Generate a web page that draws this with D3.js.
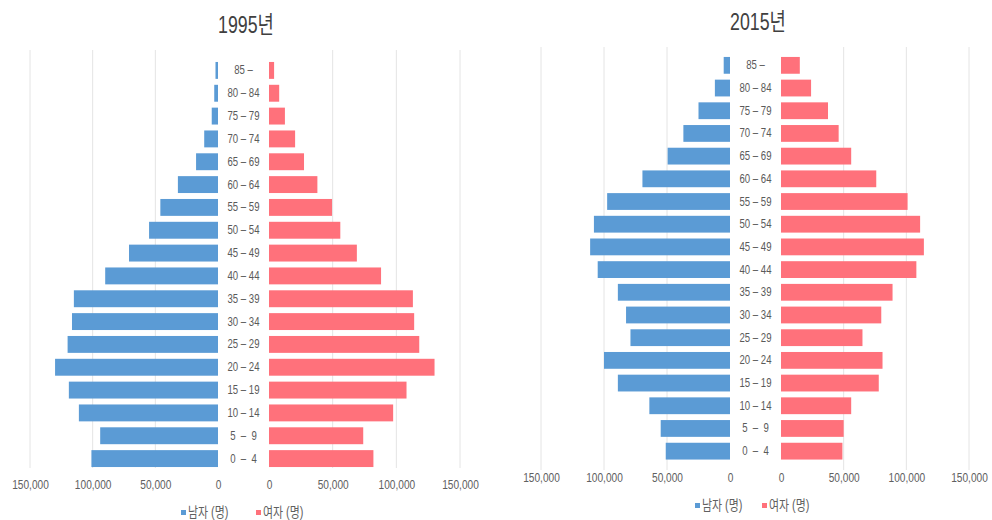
<!DOCTYPE html>
<html><head><meta charset="utf-8">
<script src="https://cdn.jsdelivr.net/npm/d3@7"></script>
<style>
html,body{margin:0;padding:0;background:#fff;}
svg{display:block;font-family:"Liberation Sans",Arial,"Noto Sans CJK KR",sans-serif;}
</style></head>
<body>
<svg id="chart" width="992" height="520"></svg>
<script>
const ageGroups = ["85 –","80 – 84","75 – 79","70 – 74","65 – 69","60 – 64","55 – 59","50 – 54","45 – 49","40 – 44","35 – 39","30 – 34","25 – 29","20 – 24","15 – 19","10 – 14","5\u00a0 –\u00a0 9","0\u00a0 –\u00a0 4"];
const male1995   = [2000,3000,5000,11000,17500,32000,46000,55000,71000,90000,115000,116500,120000,130000,119000,111000,94000,101000];
const female1995 = [4000,8000,12500,20500,27500,38000,49500,56000,69000,88000,113000,114000,118000,130000,108000,97500,74000,82000];
const male2015   = [5000,12000,25000,37000,49500,69500,97500,108000,111000,105000,89000,82500,79000,100000,89000,64000,55000,51000];
const female2015 = [15000,24000,37500,46000,56000,76000,101000,111000,114000,108000,89000,80000,65000,81000,78000,56000,50000,49000];
const tickValues = [0,50000,100000,150000];
const titles = ["1995년","2015년"];
const legendLabels = ["남자 (명)","여자 (명)"];
const colors = {male:"#5B9BD5", female:"#FF717B"};

const svg = d3.select("#chart");
const fmt = d3.format(",");

function squeezeText(sel, sx){
  sel.each(function(){
    const t = d3.select(this);
    const x = +t.attr("data-x"), y = +t.attr("data-y");
    t.attr("transform", `translate(${x},${y}) scale(${sx},1)`);
  });
}

function pyramid(cfg){
  const g = svg.append("g");
  const xm = d3.scaleLinear().domain([0,150000]).range([cfg.mZero, cfg.mMax]);
  const xf = d3.scaleLinear().domain([0,150000]).range([cfg.fZero, cfg.fMax]);
  const y = d3.scaleBand().domain(ageGroups).range([cfg.top, cfg.bottom]).paddingInner(0.26).paddingOuter(0.13);

  const gv = tickValues.filter(v=>v>0);
  g.selectAll(".gm").data(gv).join("line")
    .attr("x1",d=>xm(d)).attr("x2",d=>xm(d)).attr("y1",cfg.gTop).attr("y2",cfg.gBot)
    .attr("stroke","#e4e4e4").attr("stroke-width",1);
  g.selectAll(".gf").data(gv).join("line")
    .attr("x1",d=>xf(d)).attr("x2",d=>xf(d)).attr("y1",cfg.gTop).attr("y2",cfg.gBot)
    .attr("stroke","#e4e4e4").attr("stroke-width",1);

  g.selectAll(".bm").data(cfg.male).join("rect")
    .attr("x",(d)=>xm(d)).attr("width",d=>xm(0)-xm(d))
    .attr("y",(d,i)=>y(ageGroups[i])).attr("height",y.bandwidth())
    .attr("fill",colors.male);
  g.selectAll(".bf").data(cfg.female).join("rect")
    .attr("x",xf(0)).attr("width",d=>xf(d)-xf(0))
    .attr("y",(d,i)=>y(ageGroups[i])).attr("height",y.bandwidth())
    .attr("fill",colors.female);

  const cx = (cfg.mZero+cfg.fZero)/2;
  g.selectAll(".al").data(ageGroups).join("text")
    .attr("data-x",cx).attr("data-y",d=>y(d)+y.bandwidth()/2+4)
    .attr("text-anchor","middle").attr("font-size",12).attr("fill","#5a5a5a")
    .text(d=>d).call(squeezeText,0.8);

  const axM = d3.axisBottom(xm).tickValues(tickValues).tickFormat(fmt).tickSize(0);
  const axF = d3.axisBottom(xf).tickValues(tickValues).tickFormat(fmt).tickSize(0);
  [axM,axF].forEach(ax=>{
    const a = g.append("g").attr("transform",`translate(0,${cfg.tickY})`).call(ax);
    a.select(".domain").remove();
    a.selectAll("text").attr("font-size",13).attr("fill","#606060")
      .attr("font-family","Liberation Sans,Arial,sans-serif")
      .attr("dy","0").attr("y",0)
      .attr("transform","scale(0.78,1)");
  });

  g.append("text").attr("data-x",cfg.titleX).attr("data-y",cfg.titleY)
    .attr("text-anchor","middle").attr("font-size",24).attr("fill","#404040")
    .text(cfg.title).call(squeezeText,0.74);

  const lg = g.append("g");
  const items = [{c:colors.male,t:legendLabels[0],x:cfg.legX[0]},{c:colors.female,t:legendLabels[1],x:cfg.legX[1]}];
  items.forEach(it=>{
    lg.append("rect").attr("x",it.x).attr("y",cfg.legY-7).attr("width",5).attr("height",5).attr("fill",it.c);
    lg.append("text").attr("data-x",it.x+7).attr("data-y",cfg.legY)
      .attr("font-size",14).attr("fill","#606060").text(it.t).call(squeezeText,0.78);
  });
}

pyramid({male:male1995,female:female1995,title:titles[0],
  mZero:218,mMax:30,fZero:269,fMax:460,top:59,bottom:470,gTop:50,gBot:468,
  tickY:489,titleX:246,titleY:33,legY:517,legX:[181,256]});
pyramid({male:male2015,female:female2015,title:titles[1],
  mZero:730,mMax:541,fZero:781,fMax:969,top:54,bottom:462.5,gTop:47,gBot:470,
  tickY:482,titleX:758,titleY:30,legY:510,legX:[695,762]});
</script>
</body></html>
